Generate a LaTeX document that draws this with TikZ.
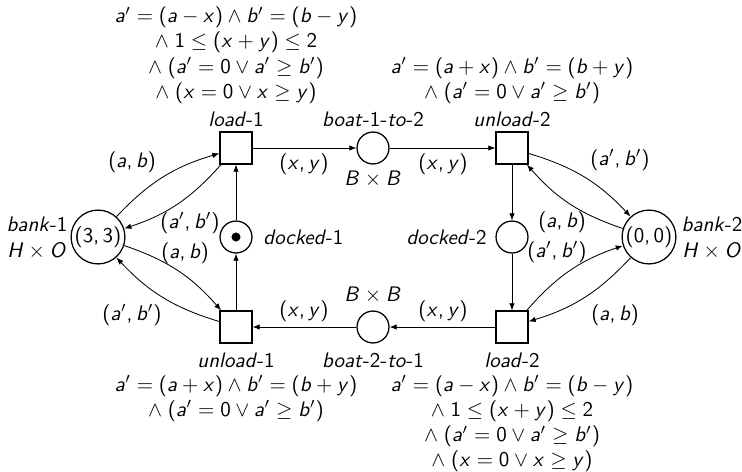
\documentclass[tikz,border=0pt]{standalone}
\renewcommand{\familydefault}{\sfdefault}
% sans-serif math: upright digits and delimiters, slanted letters
\SetSymbolFont{operators}{normal}{OT1}{cmss}{m}{n}
\DeclareSymbolFont{sfletters}{OT1}{cmss}{m}{sl}
\DeclareMathSymbol{a}{\mathalpha}{sfletters}{`a}
\DeclareMathSymbol{b}{\mathalpha}{sfletters}{`b}
\DeclareMathSymbol{x}{\mathalpha}{sfletters}{`x}
\DeclareMathSymbol{y}{\mathalpha}{sfletters}{`y}
\DeclareMathSymbol{B}{\mathalpha}{sfletters}{`B}
\DeclareMathSymbol{H}{\mathalpha}{sfletters}{`H}
\DeclareMathSymbol{O}{\mathalpha}{sfletters}{`O}
\DeclareMathSymbol{,}{\mathpunct}{operators}{`,}
\usetikzlibrary{arrows.meta}
\begin{document}
\begin{tikzpicture}[x=0.476pt,y=-0.476pt,
  trans/.style={draw, line width=0.6pt, rectangle, minimum size=15.2pt, inner sep=0pt},
  place/.style={draw, line width=0.6pt, circle, minimum size=15.2pt, inner sep=0pt},
  bank/.style={draw, line width=0.6pt, circle, minimum size=22.4pt, inner sep=0.5pt},
  arc/.style={-{Latex[length=3.4pt,width=2.6pt]}, line width=0.4pt},
  lbl/.style={inner sep=1pt},
  nametext/.style={inner sep=0.5pt},
  guard/.style={align=center, inner sep=0pt}]
\useasboundingbox (0,0) rectangle (742,471);

% places and transitions
\node[bank]  (b1)  at (98,237)  {$(3,3)$};
\node[bank]  (b2)  at (649,237) {$(0,0)$};
\node[trans] (l1)  at (236,148) {};
\node[place] (p12) at (373,148) {};
\node[trans] (u2)  at (512,148) {};
\node[place] (d1)  at (236,237) {};
\node[place] (d2)  at (512,237) {};
\node[trans] (u1)  at (236,327) {};
\node[place] (p21) at (373,327) {};
\node[trans] (l2)  at (512,327) {};
\node[circle, fill, inner sep=0pt, minimum size=4.3pt] (tok) at (d1) {};

% names and colour sets
\node[nametext] (nl1)  at (236,119) {\textit{load}-1};
\node[nametext] (np12) at (373,119) {\textit{boat}-1-\textit{to}-2};
\node[nametext] (nu2)  at (512,119) {\textit{unload}-2};
\node[nametext] (cp12) at (373,179) {$B\times B$};
\node[nametext] (cp21) at (373,295) {$B\times B$};
\node[nametext] (nu1)  at (236,360) {\textit{unload}-1};
\node[nametext] (np21) at (373,360) {\textit{boat}-2-\textit{to}-1};
\node[nametext] (nl2)  at (512,360) {\textit{load}-2};
\node[nametext, anchor=west] (nd1) at (262,237) {\textit{docked}-1};
\node[nametext, anchor=east] (nd2) at (488,237) {\textit{docked}-2};
\node[nametext, align=center] (nb1) at (37,238)  {\textit{bank}-1\\$H\times O$};
\node[nametext, align=center] (nb2) at (712,238) {\textit{bank}-2\\$H\times O$};

% guards
\node[guard, anchor=south] (g1) at (236,104)
  {$a'=(a-x)\land b'=(b-y)$\\ $\land\;1\le(x+y)\le 2$\\ $\land\;(a'=0\lor a'\ge b')$\\ $\land\;(x=0\lor x\ge y)$};
\node[guard, anchor=south] (g2) at (512,104)
  {$a'=(a+x)\land b'=(b+y)$\\ $\land\;(a'=0\lor a'\ge b')$};
\node[guard, anchor=north] (g3) at (236,375)
  {$a'=(a+x)\land b'=(b+y)$\\ $\land\;(a'=0\lor a'\ge b')$};
\node[guard, anchor=north] (g4) at (512,375)
  {$a'=(a-x)\land b'=(b-y)$\\ $\land\;1\le(x+y)\le 2$\\ $\land\;(a'=0\lor a'\ge b')$\\ $\land\;(x=0\lor x\ge y)$};

% arcs between banks and transitions
\draw[arc] (b1) to[bend left=15] (l1);
\draw[arc] (l1) to[bend left=15] (b1);
\draw[arc] (b1) to[bend left=15] (u1);
\draw[arc] (u1) to[bend left=15] (b1);
\draw[arc] (u2) to[bend left=15] (b2);
\draw[arc] (b2) to[bend left=15] (u2);
\draw[arc] (l2) to[bend left=15] (b2);
\draw[arc] (b2) to[bend left=15] (l2);

% straight arcs
\draw[arc] (l1) -- (p12);
\draw[arc] (p12) -- (u2);
\draw[arc] (d1) -- (l1);
\draw[arc] (u1) -- (d1);
\draw[arc] (u2) -- (d2);
\draw[arc] (d2) -- (l2);
\draw[arc] (l2) -- (p21);
\draw[arc] (p21) -- (u1);

% arc inscriptions
\node[lbl] (e1)  at (132,162) {$(a,b)$};
\node[lbl] (e2)  at (190,223) {$(a',b')$};
\node[lbl] (e3)  at (185,253) {$(a,b)$};
\node[lbl] (e4)  at (132,315) {$(a',b')$};
\node[lbl] (e5)  at (620,160) {$(a',b')$};
\node[lbl] (e6)  at (562,222) {$(a,b)$};
\node[lbl] (e7)  at (557,252) {$(a',b')$};
\node[lbl] (e8)  at (615,315) {$(a,b)$};
\node[lbl] (e9)  at (304,164) {$(x,y)$};
\node[lbl] (e10) at (443,164) {$(x,y)$};
\node[lbl] (e11) at (304,311) {$(x,y)$};
\node[lbl] (e12) at (443,311) {$(x,y)$};
\end{tikzpicture}
\end{document}
